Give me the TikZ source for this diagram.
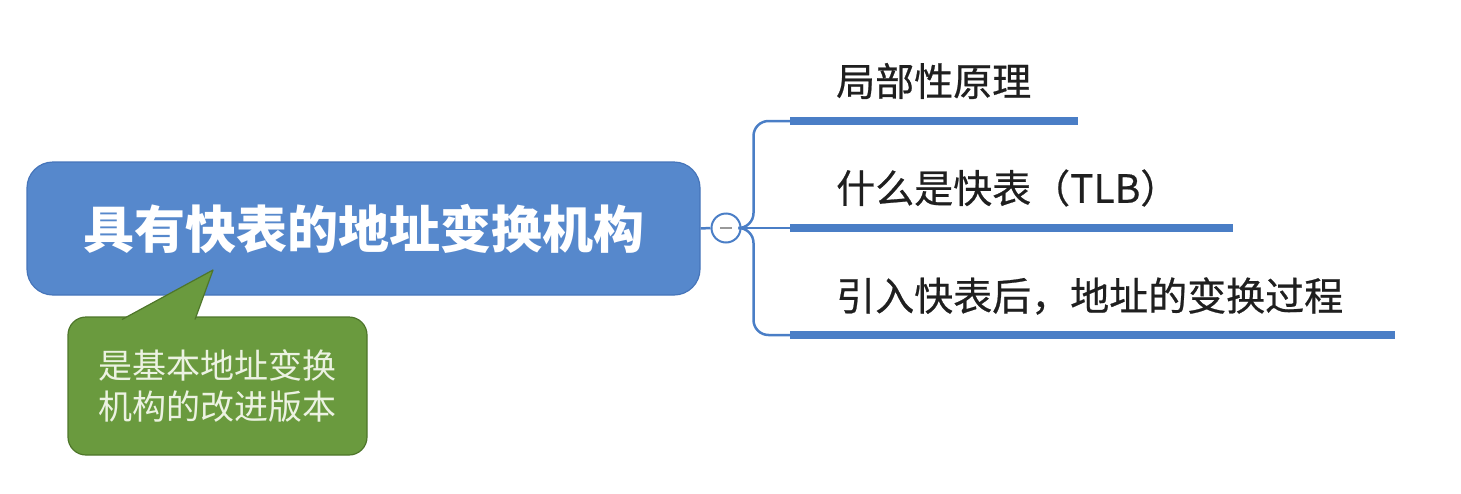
\documentclass[tikz,border=0pt]{standalone}
\usepackage{fontspec}
\newfontfamily\cjk{Noto Sans CJK SC}
\newfontfamily\cjkramo[FakeBold=0.6]{Noto Sans CJK SC}
\usepackage{xcolor}
\usetikzlibrary{positioning}

\definecolor{azulmapa}{RGB}{86,136,204}
\definecolor{azulborda}{RGB}{70,117,186}
\definecolor{azulbarra}{RGB}{74,126,198}
\definecolor{verdenota}{RGB}{106,154,62}
\definecolor{verdeborda}{RGB}{78,118,42}
\definecolor{textonota}{RGB}{236,242,226}

\tikzset{
  raizbox/.style={draw=azulborda, line width=1.2pt, fill=azulmapa, rounded corners=26pt,
    minimum width=673pt, minimum height=133pt, text=white,
    font=\cjk\bfseries\fontsize{51}{55}\selectfont},
  notabox/.style={draw=verdeborda, line width=1.2pt, fill=verdenota, rounded corners=18pt,
    minimum width=299pt, minimum height=138pt, text=textonota, align=left,
    font=\cjk\fontsize{34}{41}\selectfont},
  ramotexto/.style={anchor=west, inner sep=0pt, text=black!88,
    font=\cjkramo\fontsize{39}{44}\selectfont},
  ramo/.style={draw=azulbarra, line width=2.5pt},
  barra/.style={draw=azulbarra, line width=8pt}
}

\begin{document}
\begin{tikzpicture}[x=1pt,y=-1pt]
\useasboundingbox (0,0) rectangle (1461,493);

% Tópico central
\node[raizbox] (raiz) at (363.5,228.5) {具有快表的地址变换机构};

% Nota (balão verde)
\node[notabox] (nota) at (217.5,386) {是基本地址变换\\机构的改进版本};
\coordinate (ponta) at (213,270);
\coordinate (baseA) at (122,319.5);
\coordinate (baseB) at (195,319.5);
\fill[verdenota] (baseA) -- (ponta) -- (baseB) -- cycle;
\draw[verdeborda, line width=1.2pt, line join=round] (baseA) -- (ponta) -- (baseB);

% Botão de recolher
\node[circle, draw=azulbarra, line width=2pt, fill=white, minimum size=29pt, inner sep=0pt] (recolher) at (726,228) {};
\draw[gray!80, line width=2.5pt] ([xshift=-6pt]recolher.center) -- ([xshift=6pt]recolher.center);

% Subtópicos
\node[ramotexto] (t1) at (836,81) {局部性原理};
\node[ramotexto] (t2) at (836,188) {什么是快表（TLB）};
\node[ramotexto] (t3) at (836,296) {引入快表后，地址的变换过程};

% Barras sob os subtópicos
\coordinate (b1) at (790,121);
\coordinate (b2) at (790,228);
\coordinate (b3) at (790,335);
\coordinate (f1) at (1078,121);
\coordinate (f2) at (1233,228);
\coordinate (f3) at (1395,335);
\draw[barra] (b1) -- (f1);
\draw[barra] (b2) -- (f2);
\draw[barra] (b3) -- (f3);

% Ligações
\draw[ramo] (raiz.east) -- (recolher.west);
\draw[ramo] (recolher.east) -- (b2);
\draw[ramo, rounded corners=15pt] (recolher.east) -- ++(12,0) |- (b1);
\draw[ramo, rounded corners=15pt] (recolher.east) -- ++(12,0) |- (b3);

\end{tikzpicture}
\end{document}
